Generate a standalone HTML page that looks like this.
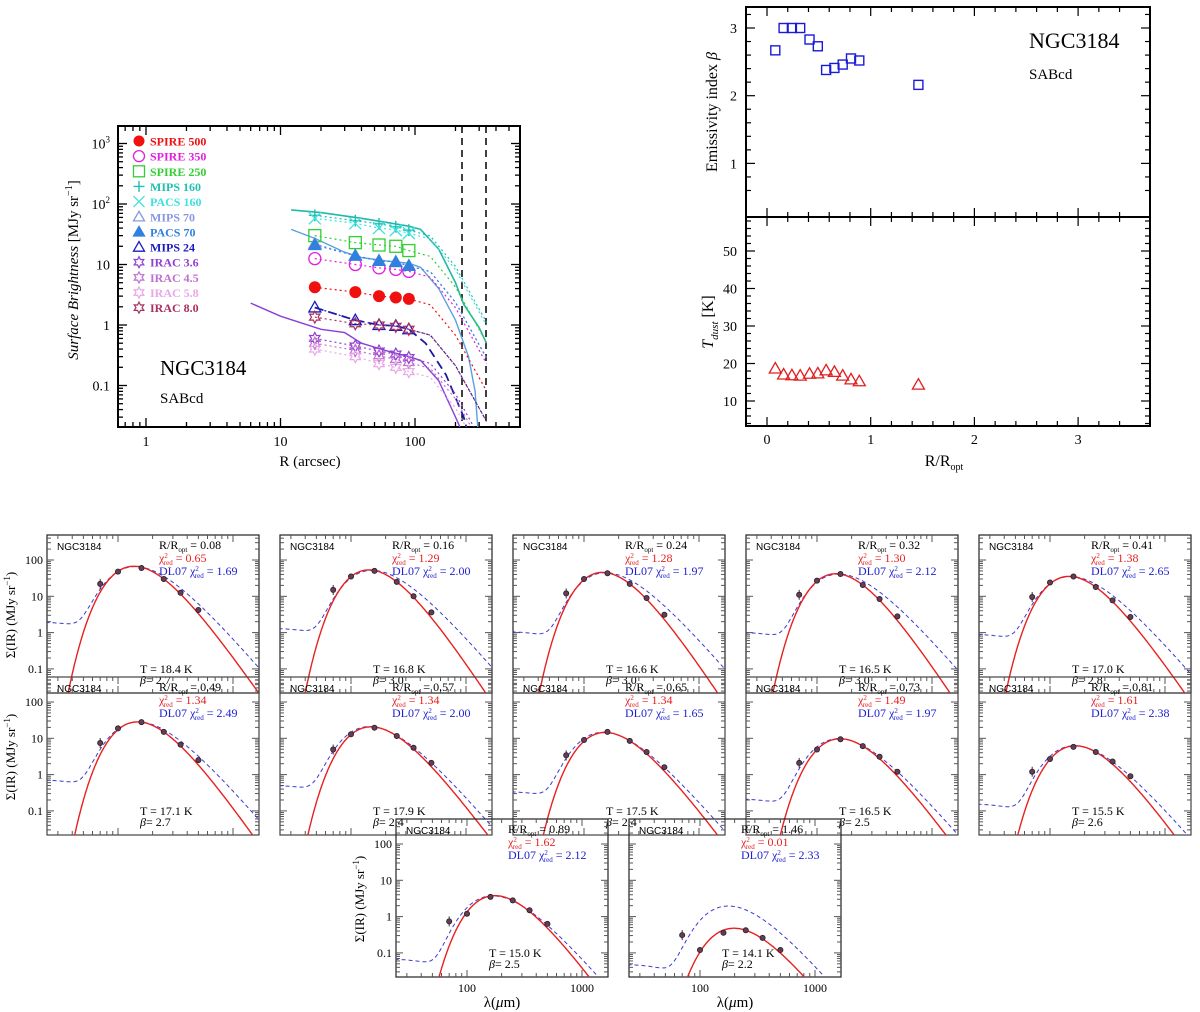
<!DOCTYPE html>
<html><head><meta charset="utf-8"><style>
html,body{margin:0;padding:0;background:#fff;}
svg{display:block;font-family:"Liberation Serif",serif;}
</style></head><body>
<svg id="fig" width="1200" height="1012" viewBox="0 0 1200 1012" xmlns="http://www.w3.org/2000/svg"></svg>
<script>
// ---------- Data: radial profile panel ----------
const profR = [18, 36, 54, 72, 90];
const bandNames = ["SPIRE 500","SPIRE 350","SPIRE 250","MIPS 160","PACS 160","MIPS 70","PACS 70","MIPS 24","IRAC 3.6","IRAC 4.5","IRAC 5.8","IRAC 8.0"];
const spire500 = [4.2, 3.5, 3.0, 2.85, 2.7];
const spire350 = [12.5, 10, 8.8, 8.3, 7.7];
const spire250 = [30, 23, 21, 20, 17];
const mips160 = [65, 53, 47, 42, 37];
const pacs160 = [58, 48, 40, 37, 33];
const mips70 = [22, 14, 11.5, 11, 9.5];
const pacs70 = [21, 14, 11.5, 11, 9.5];
const mips24 = [1.95, 1.2, 1.0, 0.97, 0.85];
const irac36 = [0.6, 0.45, 0.37, 0.33, 0.29];
const irac45 = [0.5, 0.38, 0.31, 0.27, 0.24];
const irac58 = [0.4, 0.3, 0.23, 0.2, 0.17];
const irac80 = [1.35, 1.05, 1.0, 0.95, 0.85];
const tailR = [130, 200, 340];
const tailFactor = [0.8, 0.25, 0.03];
const teal160R = [12, 20, 40, 60, 90, 110, 150, 200, 230, 300, 340];
const teal160V = [80, 72, 58, 50, 43, 38, 18, 5, 2.2, 0.9, 0.5];
const blue70R = [12, 18, 30, 40, 60, 90, 110, 150, 200, 250, 280, 300];
const blue70V = [38, 27, 16, 13, 11.5, 10.5, 9, 4, 1.2, 0.3, 0.08, 0.01];
const purpleR = [6, 10, 20, 30, 40, 60, 90, 110, 150, 200, 230];
const purpleV = [2.3, 1.4, 0.85, 0.75, 0.5, 0.38, 0.3, 0.26, 0.12, 0.03, 0.015];
const m24R = [18, 36, 54, 72, 90, 120, 170, 230, 250];
const m24V = [1.95, 1.2, 1.0, 0.97, 0.85, 0.5, 0.15, 0.03, 0.015];

// ---------- Data: beta / T vs radius ----------
const rOpt = [0.08,0.16,0.24,0.32,0.41,0.49,0.57,0.65,0.73,0.81,0.89,1.46];
const betaVals = [2.67,3.0,3.0,3.0,2.83,2.73,2.38,2.41,2.46,2.55,2.52,2.16];
const tempVals = [18.4,16.8,16.6,16.5,17.0,17.1,17.9,17.5,16.5,15.5,15.0,14.1];
const betaText = ["2.7","3.0","3.0","3.0","2.8","2.7","2.4","2.4","2.5","2.6","2.5","2.2"];
const rText = ["0.08","0.16","0.24","0.32","0.41","0.49","0.57","0.65","0.73","0.81","0.89","1.46"];
const chiMBB = ["0.65","1.29","1.28","1.30","1.38","1.34","1.34","1.34","1.49","1.61","1.62","0.01"];
const chiDL = ["1.69","2.00","1.97","2.12","2.65","2.49","2.00","1.65","1.97","2.38","2.12","2.33"];

// ---------- Data: SEDs ----------
const sedLam = [70, 100, 160, 250, 350, 500];
const sedData = [
 [22,48,60,30,12.5,4.2],[15,35,50,25,10,3.6],[12,30,43,22,9,3.1],[11,27,41,20.5,8.4,2.8],
 [9.6,24,35,18,7.7,2.7],[7.4,18.7,28,15,6.7,2.5],[4.9,12.9,19.6,11.6,5.5,2.1],[3.4,9,15,8.5,4.2,1.6],
 [2.1,4.9,9.4,6.1,3.1,1.2],[1.2,2.7,5.8,4.2,2.3,0.9],[0.74,1.2,3.5,2.8,1.5,0.63],[0.31,0.12,0.36,0.42,0.26,0.12]];
const dlFloor = [2,1.35,1.1,1.05,0.93,0.74,0.52,0.35,0.22,0.16,0.07,0.05];
const dlScale = [1,1,1,1,1,1,1,1,1,1,1,4.5];

const NS="http://www.w3.org/2000/svg";
const svg=document.getElementById('fig');
function mk(tag,attrs,parent){const e=document.createElementNS(NS,tag);for(const k in attrs)e.setAttribute(k,attrs[k]);(parent||svg).appendChild(e);return e;}
function txt(x,y,s,size,opts,parent){opts=opts||{};const t=mk('text',{x:x,y:y,'font-size':size,fill:opts.fill||'#000','text-anchor':opts.anchor||'start'},parent);if(opts.weight)t.setAttribute('font-weight',opts.weight);if(opts.style)t.setAttribute('font-style',opts.style);if(opts.transform)t.setAttribute('transform',opts.transform);if(opts.family)t.setAttribute('font-family',opts.family);t.innerHTML=s;return t;}
function line(x1,y1,x2,y2,st,w,parent){return mk('line',{x1:x1,y1:y1,x2:x2,y2:y2,stroke:st||'#000','stroke-width':w||1},parent);}
function pathD(pts){return pts.map((p,i)=>(i?'L':'M')+p[0].toFixed(1)+','+p[1].toFixed(1)).join('');}
const L10=Math.log10;

// ============ Panel 1: surface brightness profiles ============
const P1={L:118,R:520,T:126,B:427};
const lx=v=>146+134.5*L10(v);
const ly=v=>325-60.5*L10(v);
const g1=mk('g',{});


const cp1=mk('clipPath',{id:'c1'},g1);
mk('rect',{x:P1.L,y:P1.T,width:P1.R-P1.L,height:P1.B-P1.T},cp1);
const f1=mk('rect',{x:P1.L,y:P1.T,width:P1.R-P1.L,height:P1.B-P1.T,fill:'none',stroke:'#000','stroke-width':2},g1);


for(let d=-1;d<=2;d++)for(let m=1;m<=9;m++){const v=m*Math.pow(10,d);const x=lx(v);if(x<P1.L||x>P1.R)continue;const len=m==1?9:5;line(x,P1.B,x,P1.B-len,'#000',1.3,g1);line(x,P1.T,x,P1.T+len,'#000',1.3,g1);}
for(let d=-2;d<=3;d++)for(let m=1;m<=9;m++){const v=m*Math.pow(10,d);const y=ly(v);if(y<P1.T||y>P1.B)continue;const len=m==1?9:5;line(P1.L,y,P1.L+len,y,'#000',1.3,g1);line(P1.R,y,P1.R-len,y,'#000',1.3,g1);}
const xl1=[[1,'1'],[10,'10'],[100,'100']];
xl1.forEach(a=>{const t=txt(lx(a[0]),446,a[1],14,{anchor:'middle'},g1);});
const yl1=[[0.1,'0.1'],[1,'1'],[10,'10'],[100,'10<tspan font-size="9" dy="-6">2</tspan>'],[1000,'10<tspan font-size="9" dy="-6">3</tspan>']];
yl1.forEach(a=>{const t=txt(110,ly(a[0])+5,a[1],14,{anchor:'end'},g1);});
const xt1=txt(310,466,'R (arcsec)',15,{anchor:'middle'},g1);

const yt1=txt(0,0,'<tspan font-style="italic">Surface Brightness</tspan> [MJy sr<tspan font-size="10" dy="-6">−1</tspan><tspan dy="6">]</tspan>',15,{anchor:'middle',transform:'translate(78,270) rotate(-90)'},g1);

const gal1=txt(160,375,'NGC3184',21,{},g1);

const typ1=txt(160,403,'SABcd',15,{},g1);

[462,486].forEach(x=>{const l=line(x,P1.T,x,P1.B,'#000',1.5,g1);l.setAttribute('stroke-dasharray','7,5');});

const cg=mk('g',{'clip-path':'url(#c1)'},g1);
function profLine(R,V,col,dash,w,name){const p=mk('path',{d:pathD(R.map((r,i)=>[lx(r),ly(Math.max(V[i],1e-3))])),fill:'none',stroke:col,'stroke-width':w||1.3},cg);if(dash)p.setAttribute('stroke-dasharray',dash);return p;}
profLine(teal160R,teal160V,'#20b8a8',null,1.6,'mips160-profile');
profLine(blue70R,blue70V,'#5aa0e0',null,1.4,'mips70-profile');
profLine(purpleR,purpleV,'#8a40d8',null,1.4,'irac36-profile');
profLine(m24R,m24V,'#1a1aa0','9,5',1.8,'mips24-profile');

const bands=[
 {v:spire500,c:'#f01010',m:'fcircle'},{v:spire350,c:'#e020e0',m:'ocircle'},{v:spire250,c:'#30d030',m:'square'},
 {v:mips160,c:'#20c0b0',m:'plus'},{v:pacs160,c:'#40e0e0',m:'cross'},{v:mips70,c:'#8898e0',m:'otri'},
 {v:pacs70,c:'#3080e0',m:'ftri'},{v:mips24,c:'#1a1ac0',m:'otri'},{v:irac36,c:'#9040d0',m:'star'},
 {v:irac45,c:'#c070d0',m:'star'},{v:irac58,c:'#e8a8e8',m:'star'},{v:irac80,c:'#a83060',m:'star'}];
function marker(type,x,y,c,s,parent){
 s=s||6;let e;
 if(type=='fcircle')e=mk('circle',{cx:x,cy:y,r:s,fill:c},parent);
 else if(type=='ocircle')e=mk('circle',{cx:x,cy:y,r:s,fill:'none',stroke:c,'stroke-width':1.3},parent);
 else if(type=='square')e=mk('rect',{x:x-s,y:y-s,width:2*s,height:2*s,fill:'none',stroke:c,'stroke-width':1.3},parent);
 else if(type=='plus')e=mk('path',{d:`M${x-s},${y}H${x+s}M${x},${y-s}V${y+s}`,stroke:c,'stroke-width':1.4},parent);
 else if(type=='cross')e=mk('path',{d:`M${x-s},${y-s}L${x+s},${y+s}M${x-s},${y+s}L${x+s},${y-s}`,stroke:c,'stroke-width':1.3},parent);
 else if(type=='otri'||type=='ftri')e=mk('path',{d:`M${x},${y-s}L${x+s},${y+s*0.75}L${x-s},${y+s*0.75}Z`,fill:type=='ftri'?c:'none',stroke:c,'stroke-width':1.3},parent);
 else if(type=='star'){let d='';for(let k=0;k<12;k++){const a=-Math.PI/2+k*Math.PI/6;const r=k%2?s*0.55:s;d+=(k?'L':'M')+(x+r*Math.cos(a)).toFixed(1)+','+(y+r*Math.sin(a)).toFixed(1);}e=mk('path',{d:d+'Z',fill:'none',stroke:c,'stroke-width':1.2},parent);}
 return e;}
bands.forEach((b,bi)=>{
 const last=b.v[b.v.length-1];
 const R=profR.concat(tailR),V=b.v.concat(tailFactor.map(f=>last*f));
 profLine(R,V,b.c,'2,3',1.2,'dotted-profile');
 b.v.forEach((v,i)=>{const m=marker(b.m,lx(profR[i]),ly(v),b.c,6,g1);});
 const ly0=141+bi*15.15;
 const lm=marker(b.m,139,ly0,b.c,5.5,g1);
 
 const lt=txt(150,ly0+4.5,bandNames[bi],12,{fill:b.c,weight:'bold'},g1);
 
 
});

// ============ Panel 2: beta and T vs R/Ropt ============
const P2={L:746,R:1150,T:7,M:217,B:426};
const rx=v=>767+103.7*v;
const by=v=>28+(3-v)*67.7;
const ty=v=>401-(v-10)*3.75;
const g2=mk('g',{});


const fu=mk('rect',{x:P2.L,y:P2.T,width:P2.R-P2.L,height:P2.M-P2.T,fill:'none',stroke:'#000','stroke-width':2},g2);

const fl=mk('rect',{x:P2.L,y:P2.M,width:P2.R-P2.L,height:P2.B-P2.M,fill:'none',stroke:'#000','stroke-width':2},g2);

for(let v=-0.2;v<=3.6;v+=0.2){const x=rx(+v.toFixed(1));if(x<P2.L||x>P2.R)continue;const maj=Math.abs(v-Math.round(v))<1e-6;const len=maj?9:5;
 [P2.T,P2.M].forEach(y0=>line(x,y0,x,y0+len,'#000',1.2,g2));[P2.M,P2.B].forEach(y0=>line(x,y0,x,y0-len,'#000',1.2,g2));}
for(let v=0.5;v<=3.3;v+=0.1){const y=by(v);if(y<P2.T||y>P2.M)continue;const r=Math.round(v*10);if(r%2)continue;const maj=r%10==0;const len=maj?9:5;line(P2.L,y,P2.L+len,y,'#000',1.2,g2);line(P2.R,y,P2.R-len,y,'#000',1.2,g2);}
for(let v=4;v<=58;v+=2){const y=ty(v);const maj=v%10==0;const len=maj?9:5;line(P2.L,y,P2.L+len,y,'#000',1.2,g2);line(P2.R,y,P2.R-len,y,'#000',1.2,g2);}
[1,2,3].forEach(v=>{const t=txt(737,by(v)+5,String(v),14,{anchor:'end'},g2);});
[10,20,30,40,50].forEach(v=>{const t=txt(737,ty(v)+5,String(v),14,{anchor:'end'},g2);});
[0,1,2,3].forEach(v=>{const t=txt(rx(v),444,String(v),14,{anchor:'middle'},g2);});
const xt2=txt(944,466,'R/R<tspan font-size="10" dy="4">opt</tspan>',16,{anchor:'middle'},g2);

const yt2=txt(0,0,'Emissivity index <tspan font-style="italic">β</tspan>',16,{anchor:'middle',transform:'translate(717,112) rotate(-90)'},g2);

const yt3=txt(0,0,'<tspan font-style="italic">T<tspan font-size="11" dy="5">dust</tspan></tspan><tspan dy="-5">  [K]</tspan>',16,{anchor:'middle',transform:'translate(713,322) rotate(-90)'},g2);

const gal2=txt(1029,48,'NGC3184',22,{},g2);

const typ2=txt(1029,79,'SABcd',15,{},g2);

rOpt.forEach((r,i)=>{
 const s=mk('rect',{x:rx(r)-4.5,y:by(betaVals[i])-4.5,width:9,height:9,fill:'none',stroke:'#1a1ad8','stroke-width':1.4},g2);
 
 
 const t=marker('otri',rx(r),ty(tempVals[i])-1,'#e02020',6,g2);
 
 
});

// ============ SED panels ============
const PW=212,PH=158;
const panelPos=[[47,535],[280,535],[513,535],[746,535],[979,535],[47,677],[280,677],[513,677],[746,677],[979,677],[396,819],[629,819]];
function mbb(l,T,b){return Math.pow(l,-(3+b))/(Math.exp(14388/(l*T))-1);}
panelPos.forEach((pp,i)=>{
 const left=pp[0],top=pp[1];
 const sx=v=>left+71+115*(L10(v)-2);
 const sy=v=>top+25+36.3*(2-L10(v));
 const g=mk('g',{});
 
 
 const cid='cs'+i;
 const cp=mk('clipPath',{id:cid},g);mk('rect',{x:left,y:top,width:PW,height:PH},cp);
 const fr=mk('rect',{x:left,y:top,width:PW,height:PH,fill:'none',stroke:i>=5&&i<10?'#444':'#222','stroke-width':1.2},g);
 
 for(let d=1;d<=3;d++)for(let m=1;m<=9;m++){const v=m*Math.pow(10,d);const x=sx(v);if(x<left+1||x>left+PW-1)continue;const len=m==1?7:4;line(x,top+PH,x,top+PH-len,'#555',1,g);line(x,top,x,top+len,'#555',1,g);}
 for(let d=-2;d<=2;d++)for(let m=1;m<=9;m++){const v=m*Math.pow(10,d);const y=sy(v);if(y<top+1||y>top+PH-1)continue;const len=m==1?7:4;line(left,y,left+len,y,'#555',1,g);line(left+PW,y,left+PW-len,y,'#555',1,g);}
 if(left<60||i==10){
  [[100,'100'],[10,'10'],[1,'1'],[0.1,'0.1']].forEach(a=>{const t=txt(left-4,sy(a[0])+4,a[1],12,{anchor:'end'},g);});
  const yt=txt(0,0,'Σ(IR) (MJy sr<tspan font-size="9" dy="-5">−1</tspan><tspan dy="5">)</tspan>',13,{anchor:'middle',transform:`translate(${left-32},${top+80}) rotate(-90)`},g);
  
 }
 if(i>=10){
  [[100,'100'],[1000,'1000']].forEach(a=>{const t=txt(sx(a[0]),top+PH+15,a[1],12,{anchor:'middle'},g);});
  const xt=txt(left+106,top+PH+30,'λ(<tspan font-style="italic">μ</tspan>m)',15,{anchor:'middle'},g);
  
 }
 const T=tempVals[i],B=+betaText[i],d=sedData[i];
 const amp=d[3]/mbb(250,T,B);
 const peak=amp*mbb(160,T,B);
 const dlAmp=peak*dlScale[i]/mbb(160,T+3,1.8);
 const red=[],blue=[];
 for(let lg=1.37;lg<=3.26;lg+=0.01){const l=Math.pow(10,lg);
  red.push([sx(l),sy(Math.max(amp*mbb(l,T,B),1e-4))]);
  blue.push([sx(l),sy(dlAmp*mbb(l,T+3,1.8)+dlFloor[i]/(1+Math.pow(l/65,3)))]);}
 const cg=mk('g',{'clip-path':`url(#${cid})`},g);
 const bl=mk('path',{d:pathD(blue),fill:'none',stroke:'#3a3ad0','stroke-width':1,'stroke-dasharray':'4,3'},cg);
 
 
 const rl=mk('path',{d:pathD(red),fill:'none',stroke:'#e82020','stroke-width':1.4},cg);
 
 
 sedLam.forEach((l,k)=>{const x=sx(l),y=sy(d[k]);
  if(k==0)line(x,y-5,x,y+5,'#333',1,cg);
  const c=mk('circle',{cx:x,cy:y,r:2.6,fill:'#6a3a5a',stroke:'#222','stroke-width':0.8},cg);
  
  });
 const n=txt(left+10,top+15,'NGC3184',10,{family:'"Liberation Sans",sans-serif'},g);
 
 const r=txt(left+112,top+14,'R/R<tspan font-size="7" dy="3">opt</tspan><tspan dy="-3"> = '+rText[i]+'</tspan>',12,{},g);
 
 const c1=txt(left+112,top+27,'χ<tspan font-size="7" dy="-4">2</tspan><tspan font-size="7" dx="-4" dy="7">red</tspan><tspan dy="-3"> = '+chiMBB[i]+'</tspan>',12,{fill:'#e82020'},g);
 
 const c2=txt(left+112,top+40,'DL07 χ<tspan font-size="7" dy="-4">2</tspan><tspan font-size="7" dx="-4" dy="7">red</tspan><tspan dy="-3"> = '+chiDL[i]+'</tspan>',12,{fill:'#2020d0'},g);
 
 const tl=txt(left+93,top+138,'T = '+T.toFixed(1)+' K',12,{},g);
 
 const bt=txt(left+93,top+149,'<tspan font-style="italic">β</tspan>= '+betaText[i],12,{},g);
 
});
</script>
</body></html>
